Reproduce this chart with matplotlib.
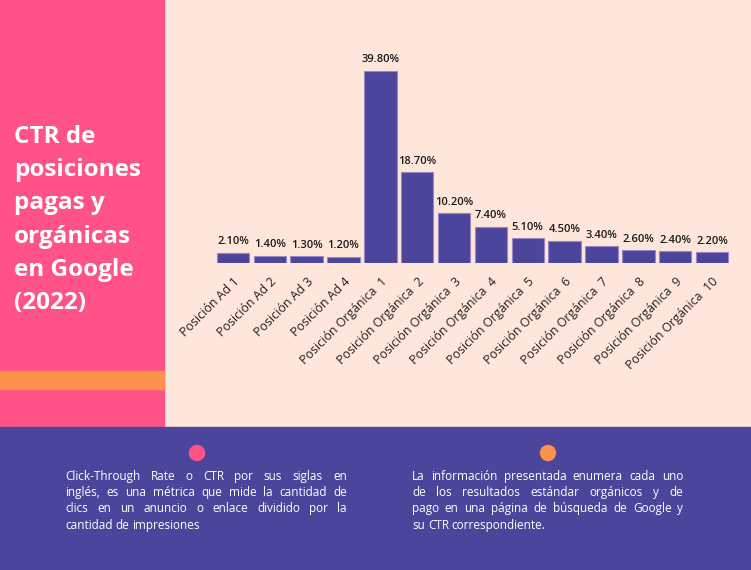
import matplotlib
matplotlib.use("Agg")
import matplotlib.pyplot as plt
from matplotlib.patches import Rectangle, Ellipse

plt.rcParams["font.family"] = ["Open Sans", "DejaVu Sans"]

categories = [
    "Posición Ad 1", "Posición Ad 2", "Posición Ad 3", "Posición Ad 4",
    "Posición Orgánica  1", "Posición Orgánica  2", "Posición Orgánica  3",
    "Posición Orgánica  4", "Posición Orgánica  5", "Posición Orgánica  6",
    "Posición Orgánica  7", "Posición Orgánica  8", "Posición Orgánica  9",
    "Posición Orgánica  10",
]
ctr = [2.1, 1.4, 1.3, 1.2, 39.8, 18.7, 10.2, 7.4, 5.1, 4.5, 3.4, 2.6, 2.4, 2.2]

title_lines = ["CTR de", "posiciones", "pagas y", "orgánicas", "en Google", "(2022)"]
note_left = [
    "Click-Through Rate o CTR por sus siglas en",
    "inglés, es una métrica que mide la cantidad de",
    "clics en un anuncio o enlace dividido por la",
    "cantidad de impresiones",
]
note_right = [
    "La información presentada enumera cada uno",
    "de los resultados estándar orgánicos y de",
    "pago en una página de búsqueda de Google y",
    "su CTR correspondiente.",
]

PINK = "#FF5286"
ORANGE = "#FF914D"
PEACH = "#FFE6DA"
PURPLE = "#4B469B"

W, H = 751, 570
fig = plt.figure(figsize=(W / 100, H / 100), dpi=100, facecolor=PEACH)


def px(x, y):
    # pixel coords (top-left origin) -> figure fraction
    return x / W, 1 - y / H


def rect(x0, y0, x1, y1, color):
    fx, fy = px(x0, y1)
    fig.patches.append(Rectangle((fx, fy), (x1 - x0) / W, (y1 - y0) / H,
                                 transform=fig.transFigure, color=color, zorder=0))


rect(0, 0, 164, 427, PINK)
rect(0, 371, 164, 389, ORANGE)
rect(0, 427, W, H, PURPLE)

for c, (cx, cy) in zip([PINK, ORANGE], [(197, 453), (548, 453)]):
    fx, fy = px(cx, cy)
    fig.patches.append(Ellipse((fx, fy), 15 / W, 15 / H, transform=fig.transFigure,
                               color=c, zorder=1))

# title
for i, line in enumerate(title_lines):
    fx, fy = px(14, 137 + i * 33.2)
    fig.text(fx, fy, line, color="white", fontsize=17.5, fontweight="bold",
             va="center", ha="left")

# bar chart
base_y, top_y = 262.7, 45.6
x_left, x_right = 214.6, 730.4
ax = fig.add_axes([x_left / W, 1 - base_y / H, (x_right - x_left) / W, (base_y - top_y) / H])
ax.set_facecolor("none")
xs = range(len(ctr))
ax.bar(xs, ctr, width=0.88, color=PURPLE, edgecolor="#9a86c8", linewidth=0.8)
ax.set_xlim(-0.5, len(ctr) - 0.5)
ax.set_ylim(0, 45)
for s in ax.spines.values():
    s.set_visible(False)
ax.set_yticks([])
ax.set_xticks(list(xs))
ax.set_xticklabels(categories, rotation=45, ha="right", rotation_mode="anchor",
                   fontsize=8.9, color="#222222")
ax.tick_params(axis="x", length=0, pad=9)
for x, v in zip(xs, ctr):
    ax.annotate(f"{v:.2f}%", (x, v), xytext=(0, 4), textcoords="offset points",
                ha="center", va="bottom", fontsize=8, fontweight="semibold",
                color="#1a1a1a")

# justified notes
renderer = fig.canvas.get_renderer()
NOTE_FS = 8.5


def justified(lines, x0, x1, y0, dy):
    probe = fig.text(0, 0, "a a", fontsize=NOTE_FS)
    probe2 = fig.text(0, 0, "aa", fontsize=NOTE_FS)
    space = probe.get_window_extent(renderer).width - probe2.get_window_extent(renderer).width
    probe.remove()
    probe2.remove()
    for li, line in enumerate(lines):
        words = line.split(" ")
        fy = px(0, y0 + li * dy)[1]
        texts = [fig.text(0, fy, w, color="white", fontsize=NOTE_FS, va="baseline", ha="left")
                 for w in words]
        widths = [t.get_window_extent(renderer).width for t in texts]
        if li == len(lines) - 1:
            gap = space
        else:
            gap = (x1 - x0 - sum(widths)) / (len(words) - 1)
        x = x0
        for t, w in zip(texts, widths):
            t.set_x(x / W)
            x += w + gap


justified(note_left, 65, 347, 480, 16.2)
justified(note_right, 412, 683, 480, 16.2)

fig.savefig("out.png", dpi=100, facecolor=PEACH)
